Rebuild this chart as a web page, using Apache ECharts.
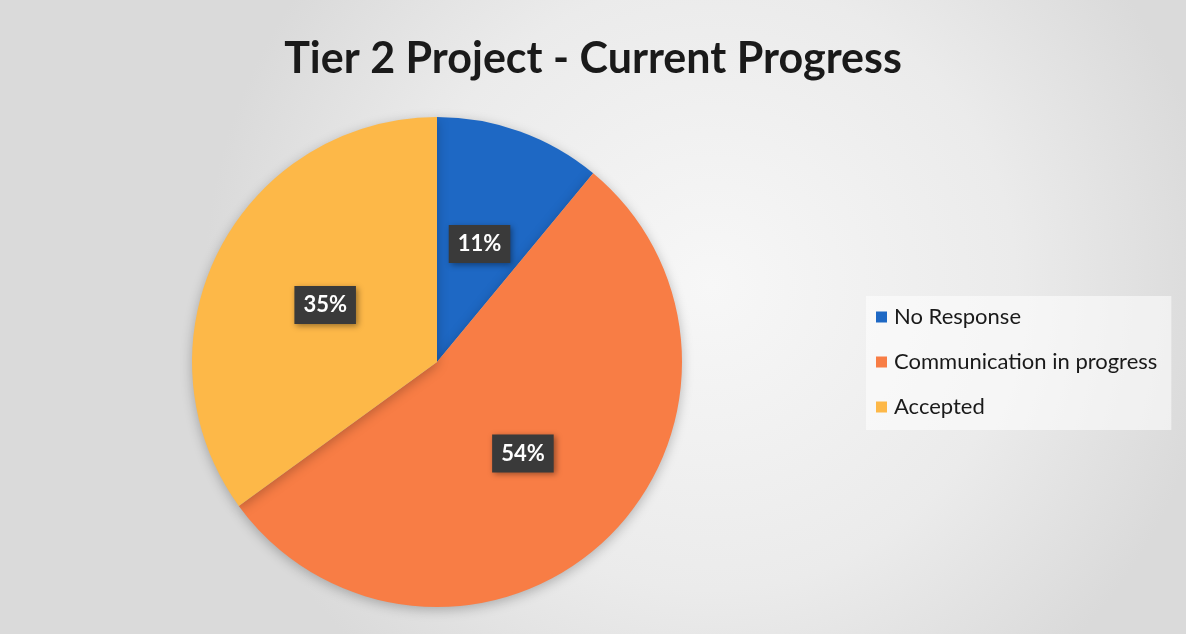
<!DOCTYPE html>
<html>
<head>
<meta charset="utf-8">
<script src="https://cdn.jsdelivr.net/npm/echarts@6/dist/echarts.min.js"></script>
<style>
  html, body { margin: 0; padding: 0; }
  #chart { width: 1186px; height: 634px; }
</style>
</head>
<body>
<div id="chart"></div>
<script>
var categories = ['No Response', 'Communication in progress', 'Accepted'];
var values = [11, 54, 35];
var colors = ['#1e68c4', '#f87d45', '#fdb848'];

var myChart = echarts.init(document.getElementById('chart'));

// build pie data from the arrays
var pieData = categories.map(function (name, i) {
    return { name: name, value: values[i] };
});

var option = {
    backgroundColor: {
        type: 'radial', x: 0.6, y: 0.45, r: 0.8,
        colorStops: [
            { offset: 0, color: '#f7f7f7' },
            { offset: 0.6, color: '#ebebeb' },
            { offset: 1, color: '#dadada' }
        ]
    },
    color: colors,
    title: {
        text: 'Tier 2 Project - Current Progress',
        left: 'center',
        top: 33,
        textStyle: {
            fontFamily: 'Lato',
            fontSize: 43,
            fontWeight: 'bold',
            color: '#1a1a1a'
        }
    },
    legend: {
        orient: 'vertical',
        left: 866,
        top: 296,
        itemWidth: 11,
        itemHeight: 11,
        itemGap: 23,
        icon: 'rect',
        padding: [10, 14, 12, 10],
        backgroundColor: 'rgba(255,255,255,0.55)',
        textStyle: {
            fontFamily: 'Lato',
            fontSize: 22,
            color: '#1a1a1a',
            padding: [0, 0, 0, 2]
        }
    },
    series: [
        {
            type: 'pie',
            center: [437, 362],
            radius: 245,
            startAngle: 90,
            clockwise: true,
            data: pieData,
            itemStyle: {
                shadowBlur: 12,
                shadowColor: 'rgba(0,0,0,0.25)',
                shadowOffsetY: 3
            },
            label: {
                position: 'inside',
                formatter: '{d}%',
                fontFamily: 'Lato',
                fontSize: 22,
                fontWeight: 'bold',
                color: '#ffffff',
                backgroundColor: '#3a3a3a',
                padding: [9, 9, 7, 9],
                shadowBlur: 6,
                shadowColor: 'rgba(0,0,0,0.4)',
                shadowOffsetX: 2,
                shadowOffsetY: 2
            },
            labelLine: { show: false },
            emphasis: { scale: false }
        }
    ]
};

myChart.setOption(option);
</script>
</body>
</html>
